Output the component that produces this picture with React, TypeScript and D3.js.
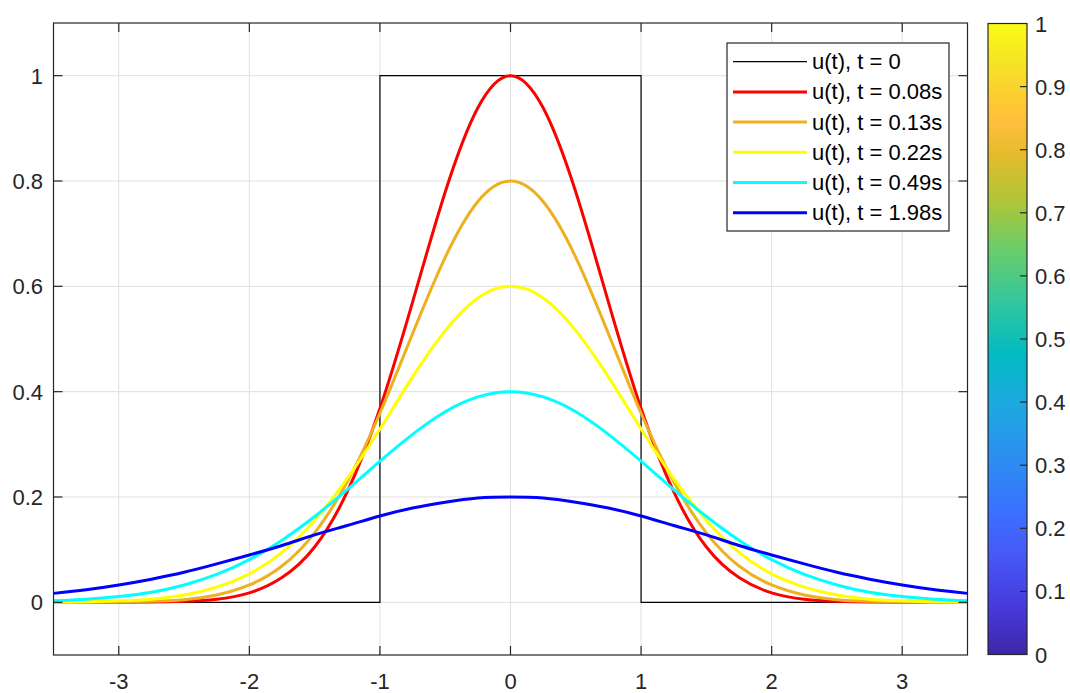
import React from "react";
import * as d3 from "d3";

// ---- data ----
const xs = [-3.5, -3.25, -3, -2.75, -2.5, -2.25, -2, -1.75, -1.5, -1.25, -1, -0.75, -0.5, -0.25, 0,
  0.25, 0.5, 0.75, 1, 1.25, 1.5, 1.75, 2, 2.25, 2.5, 2.75, 3, 3.25, 3.5];

const u008 = [0, 0, 0.0001, 0.0005, 0.002, 0.006, 0.018, 0.047, 0.105, 0.21, 0.368, 0.57, 0.779, 0.939, 1,
  0.939, 0.779, 0.57, 0.368, 0.21, 0.105, 0.047, 0.018, 0.006, 0.002, 0.0005, 0.0001, 0, 0];
const u013 = [0, 0.0002, 0.0006, 0.002, 0.005, 0.014, 0.033, 0.069, 0.132, 0.229, 0.359, 0.51, 0.655, 0.761, 0.8,
  0.761, 0.655, 0.51, 0.359, 0.229, 0.132, 0.069, 0.033, 0.014, 0.005, 0.002, 0.0006, 0.0002, 0];
const u022 = [0.0004, 0.001, 0.003, 0.006, 0.014, 0.029, 0.054, 0.095, 0.156, 0.235, 0.329, 0.428, 0.516, 0.578, 0.6,
  0.578, 0.516, 0.428, 0.329, 0.235, 0.156, 0.095, 0.054, 0.029, 0.014, 0.006, 0.003, 0.001, 0.0004];
const u049 = [0.003, 0.006, 0.011, 0.019, 0.033, 0.053, 0.081, 0.118, 0.163, 0.214, 0.268, 0.319, 0.362, 0.39, 0.4,
  0.39, 0.362, 0.319, 0.268, 0.214, 0.163, 0.118, 0.081, 0.053, 0.033, 0.019, 0.011, 0.006, 0.003];
const u198 = [0.017, 0.024, 0.033, 0.044, 0.057, 0.073, 0.09, 0.108, 0.128, 0.146, 0.164, 0.179, 0.19, 0.198, 0.2,
  0.198, 0.19, 0.179, 0.164, 0.146, 0.128, 0.108, 0.09, 0.073, 0.057, 0.044, 0.033, 0.024, 0.017];

const stepX = [-3.5, -1, -1, 1, 1, 3.5];
const stepY = [0, 0, 1, 1, 0, 0];

const labels = ["u(t), t = 0", "u(t), t = 0.08s", "u(t), t = 0.13s", "u(t), t = 0.22s", "u(t), t = 0.49s", "u(t), t = 1.98s"];
const colors = ["#000000", "#ff0000", "#edb120", "#ffff00", "#00ffff", "#0000ff"];

const xTicks = [-3, -2, -1, 0, 1, 2, 3];
const yTicks = [0, 0.2, 0.4, 0.6, 0.8, 1];
const yTickLabels = ["0", "0.2", "0.4", "0.6", "0.8", "1"];
const cbTicks = [0, 0.1, 0.2, 0.3, 0.4, 0.5, 0.6, 0.7, 0.8, 0.9, 1];
const cbTickLabels = ["0", "0.1", "0.2", "0.3", "0.4", "0.5", "0.6", "0.7", "0.8", "0.9", "1"];

// parula colormap stops (index in 64-entry map, rgb)
const parula: [number, number, number, number][] = [
  [1, 0.2422, 0.1504, 0.6603],
  [6, 0.2751, 0.2342, 0.871],
  [11, 0.2795, 0.3447, 0.9717],
  [16, 0.2206, 0.4603, 0.9973],
  [21, 0.1687, 0.5703, 0.9359],
  [26, 0.1113, 0.6635, 0.8763],
  [31, 0.0067, 0.7312, 0.766],
  [36, 0.1938, 0.7758, 0.6251],
  [41, 0.3909, 0.8029, 0.4354],
  [46, 0.672, 0.7793, 0.2227],
  [51, 0.9035, 0.733, 0.1774],
  [54, 0.9956, 0.7434, 0.2371],
  [57, 0.9892, 0.8136, 0.1885],
  [60, 0.961, 0.889, 0.1537],
  [64, 0.9769, 0.9839, 0.0805],
];

const W = 1070, H = 693;
const L = 53.5, R = 967.5, T = 23, B = 655;
const FONT = "'Liberation Sans', Arial, Helvetica, sans-serif";
const AX = "#262626";

export default function App() {
  const x = d3.scaleLinear().domain([-3.5, 3.5]).range([L, R]);
  const y = d3.scaleLinear().domain([-0.1, 1.1]).range([B, T]);
  const line = d3.line<number>().x((_, i) => x(xs[i])).y((d) => y(d)).curve(d3.curveNatural);
  const stepLine = d3.line<number>().x((_, i) => x(stepX[i])).y((d) => y(d));
  const series = [u008, u013, u022, u049, u198];

  const cbL = 988, cbR = 1027;
  const cy = d3.scaleLinear().domain([0, 1]).range([654.5, 23.5]);

  const legX = 727, legY = 43, legW = 222, legH = 188;
  const rowY = (i: number) => 61.7 + i * 30.2;

  return (
    <svg width={W} height={H} style={{ position: "absolute", left: 0, top: 0, background: "#fff" }} fontFamily={FONT}>
      <defs>
        <clipPath id="plotclip">
          <rect x={L} y={T} width={R - L} height={B - T} />
        </clipPath>
        <linearGradient id="parula" x1="0" y1="1" x2="0" y2="0">
          {parula.map(([i, r, g, b]) => (
            <stop key={i} offset={(i - 1) / 63} stopColor={d3.rgb(r * 255, g * 255, b * 255).formatHex()} />
          ))}
        </linearGradient>
      </defs>
      <rect x={L} y={T} width={R - L} height={B - T} fill="#fff" />
      {/* grid */}
      {xTicks.map((t) => (
        <line key={"gx" + t} x1={x(t)} x2={x(t)} y1={T} y2={B} stroke="#dfdfdf" strokeWidth={1} />
      ))}
      {yTicks.map((t) => (
        <line key={"gy" + t} x1={L} x2={R} y1={y(t)} y2={y(t)} stroke="#dfdfdf" strokeWidth={1} />
      ))}
      {/* data */}
      <g clipPath="url(#plotclip)">
        <path d={stepLine(stepY) || ""} fill="none" stroke="#000" strokeWidth={1.2} />
        {series.map((s, k) => (
          <path key={k} d={line(s) || ""} fill="none" stroke={colors[k + 1]} strokeWidth={3} strokeLinejoin="round" />
        ))}
      </g>
      {/* box + ticks */}
      <rect x={L} y={T} width={R - L} height={B - T} fill="none" stroke={AX} strokeWidth={1.2} />
      {xTicks.map((t) => (
        <g key={"tx" + t}>
          <line x1={x(t)} x2={x(t)} y1={B} y2={B - 9} stroke={AX} strokeWidth={1.2} />
          <line x1={x(t)} x2={x(t)} y1={T} y2={T + 9} stroke={AX} strokeWidth={1.2} />
          <text x={x(t)} y={689} textAnchor="middle" fontSize={22} fill={AX}>{String(t)}</text>
        </g>
      ))}
      {yTicks.map((t, i) => (
        <g key={"ty" + t}>
          <line x1={L} x2={L + 9} y1={y(t)} y2={y(t)} stroke={AX} strokeWidth={1.2} />
          <line x1={R} x2={R - 9} y1={y(t)} y2={y(t)} stroke={AX} strokeWidth={1.2} />
          <text x={43} y={y(t) + 8} textAnchor="end" fontSize={22} fill={AX}>{yTickLabels[i]}</text>
        </g>
      ))}
      {/* legend */}
      <rect x={legX} y={legY} width={legW} height={legH} fill="#fff" stroke={AX} strokeWidth={1.2} />
      {labels.map((lab, i) => (
        <g key={"lg" + i}>
          <line x1={733} x2={807} y1={rowY(i)} y2={rowY(i)} stroke={colors[i]} strokeWidth={i === 0 ? 1.2 : 3} />
          <text x={812} y={rowY(i) + 7.5} fontSize={22} fill="#000">{lab}</text>
        </g>
      ))}
      {/* colorbar */}
      <rect x={cbL} y={cy(1)} width={cbR - cbL} height={cy(0) - cy(1)} fill="url(#parula)" stroke={AX} strokeWidth={1.2} />
      {cbTicks.map((t, i) => (
        <g key={"cb" + i}>
          {i > 0 && i < cbTicks.length - 1 && (
            <line x1={cbR} x2={cbR - 7} y1={cy(t)} y2={cy(t)} stroke={AX} strokeWidth={1.2} />
          )}
          <text x={1035} y={cy(t) + 8} fontSize={22} fill={AX}>{cbTickLabels[i]}</text>
        </g>
      ))}
    </svg>
  );
}
